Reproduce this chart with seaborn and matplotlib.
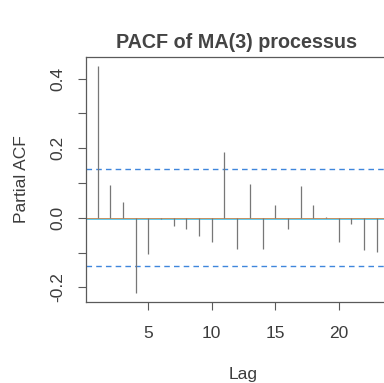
import matplotlib
matplotlib.use("Agg")
import matplotlib.pyplot as plt
import matplotlib.transforms as mtransforms
import numpy as np
import seaborn as sns

# Partial autocorrelations of the simulated MA(3) series, lags 1..24
lags = list(range(1, 25))
pacf_values = [0.435, 0.094, 0.045, -0.216, -0.105, -0.003, -0.023, -0.033,
               -0.052, -0.069, 0.188, -0.091, 0.096, -0.091, 0.036, -0.033,
               0.092, 0.036, 0.003, -0.069, -0.019, -0.093, -0.097, -0.060]
conf_bound = 0.139  # approximate 95% band, 1.96/sqrt(n)

x_ticks = [5, 10, 15, 20]
y_major = [-0.2, 0.0, 0.2, 0.4]
y_minor = [-0.1, 0.1, 0.3]

sns.set_style("ticks")
plt.rcParams["font.family"] = ["Liberation Sans", "DejaVu Sans"]

text_col = "#3c3c3c"
frame_col = "#5a5a5a"

fig = plt.figure(figsize=(3.84, 3.83), dpi=100)
ax = fig.add_axes([86 / 384, 1 - 302 / 383, 315 / 384, 245 / 383])

# zero reference line (warm line with a cool fringe just below)
ax.axhline(0, color="#c9915f", lw=0.7, zorder=2)
fringe = mtransforms.offset_copy(ax.transData, fig=fig, x=0, y=-1.3, units="dots")
ax.plot([0, 26], [0, 0], color="#45bfe6", lw=1.2, transform=fringe, zorder=1)

# confidence band
for b in (conf_bound, -conf_bound):
    ax.axhline(b, color="#3f86dc", lw=1.0, dashes=(4, 3), zorder=2)

# PACF spikes
ax.vlines(lags, 0, pacf_values, color="#777777", lw=0.9, zorder=3)

ax.set_xlim(0.08, 24.92)
ax.set_ylim(-0.242, 0.462)

ax.set_xticks(x_ticks)
ax.set_xticklabels([str(t) for t in x_ticks])
ax.set_yticks(y_major)
ax.set_yticklabels([f"{v:.1f}" for v in y_major], rotation=90, va="center")
ax.set_yticks(y_minor, minor=True)

ax.tick_params(axis="both", which="both", length=6, width=0.8, color=frame_col,
               labelcolor=text_col, labelsize=12.5, direction="out")
ax.tick_params(axis="x", pad=11)
ax.tick_params(axis="y", pad=9)

for side in ("left", "bottom", "top", "right"):
    ax.spines[side].set_visible(True)
    ax.spines[side].set_color(frame_col)
    ax.spines[side].set_linewidth(0.9)

ax.set_xlabel("Lag", fontsize=12.5, color=text_col, labelpad=19)
ax.set_ylabel("Partial ACF", fontsize=12.5, color=text_col, labelpad=15)
fig.text(237 / 384, 1 - 42 / 383, "PACF of MA(3) processus", ha="center", va="center",
         fontsize=14.2, fontweight="bold", color="#444444")

fig.savefig("out.png", dpi=100)
